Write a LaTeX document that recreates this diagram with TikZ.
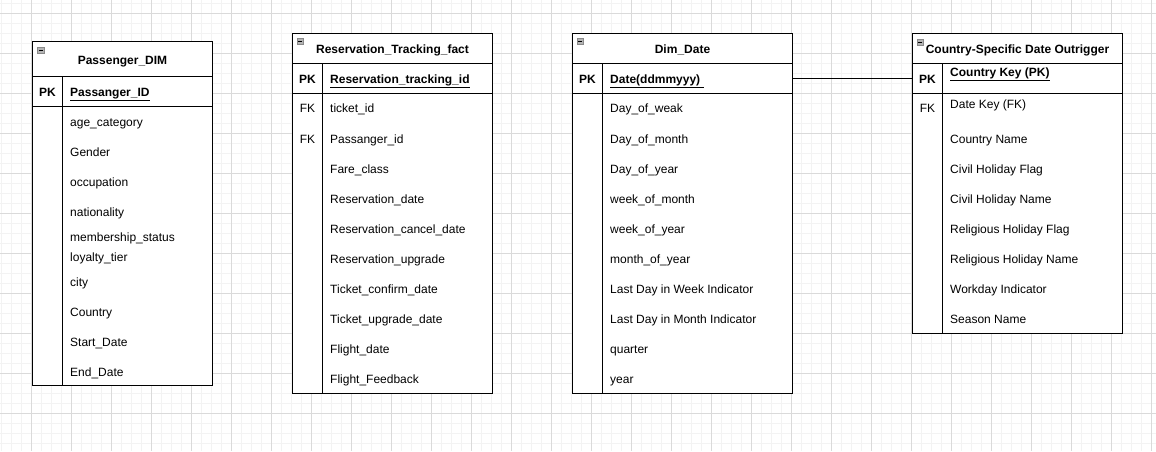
\documentclass[tikz,border=0pt]{standalone}
\usepackage{fontspec}
\setmainfont{Liberation Sans}
\definecolor{gminor}{HTML}{F3F3F3}
\definecolor{gmajor}{HTML}{DADADA}
\definecolor{iconfill}{HTML}{B4B4B4}
\definecolor{iconline}{HTML}{8A8A8A}
\begin{document}
\begin{tikzpicture}[x=1pt,y=-1pt,
  tbl/.style={draw=black, line width=1pt, fill=white, inner sep=0pt, outer sep=0pt, anchor=north west},
  sepline/.style={draw=black, line width=1pt},
  conn/.style={draw=black, line width=1pt},
  ttl/.style={font=\fontsize{12}{14}\selectfont\bfseries, inner sep=0pt, text height=10pt, text depth=0pt},
  fld/.style={font=\fontsize{12}{14}\selectfont, anchor=west, inner sep=0pt, text height=10pt, text depth=0pt},
  keyb/.style={font=\fontsize{12}{14}\selectfont\bfseries, inner sep=0pt, text height=10pt, text depth=0pt},
  keyn/.style={font=\fontsize{12}{14}\selectfont, inner sep=0pt, text height=10pt, text depth=0pt},
  pkf/.style={font=\fontsize{12}{14}\selectfont\bfseries, anchor=west, inner sep=0pt, text height=10pt, text depth=0pt},
  icon/.style={draw=iconline, fill=iconfill, line width=0.6pt},
  gridminor/.style={draw=gminor, line width=1pt},
  gridmajor/.style={draw=gmajor, line width=1pt}]
\useasboundingbox (0,0) rectangle (1156,451);
% background grid
\fill[white] (0,0) rectangle (1156,451);
\foreach \x in {1.5,11.5,...,1155} \draw[gridminor] (\x,0) -- (\x,451);
\foreach \y in {3.5,13.5,...,450} \draw[gridminor] (0,\y) -- (1156,\y);
\foreach \x in {31.5,71.5,...,1155} \draw[gridmajor] (\x,0) -- (\x,451);
\foreach \y in {13.5,53.5,...,450} \draw[gridmajor] (0,\y) -- (1156,\y);

% ---------- Passenger_DIM ----------
\node[tbl, minimum width=180pt, minimum height=344.5pt] (pas) at (32.5,41) {};
\draw[sepline] (32.5,76) -- (212.5,76);
\draw[sepline] (32.5,106) -- (212.5,106);
\draw[sepline] (62.5,76) -- (62.5,385.5);
\draw[icon] (37.5,47.5) rectangle (44,53.5);
\draw[black, line width=1pt] (38.8,50.5) -- (42.7,50.5);
\node[ttl] (pastitle) at (122.5,59) {Passenger\_DIM};
\node[keyb] (paspk) at (47.5,91.5) {PK};
\node[pkf] (pasid) at (70,91.5) {\underline{Passanger\_ID}};
\foreach \t/\y [count=\i] in {age\_category/121.5, Gender/151.5, occupation/181.5, nationality/211.5, membership\_status/236.5, loyalty\_tier/256.5, city/281.5, Country/311.5, Start\_Date/341.5, End\_Date/371.5}
  \node[fld] (pf\i) at (70,\y) {\t};

% ---------- Reservation_Tracking_fact ----------
\node[tbl, minimum width=200pt, minimum height=360pt] (res) at (292.5,33) {};
\draw[sepline] (292.5,63) -- (492.5,63);
\draw[sepline] (292.5,93) -- (492.5,93);
\draw[sepline] (322.5,63) -- (322.5,393);
\draw[icon] (297,38.5) rectangle (303.5,44.5);
\draw[black, line width=1pt] (298.3,41.5) -- (302.2,41.5);
\node[ttl] (restitle) at (392.5,48) {Reservation\_Tracking\_fact};
\node[keyb] (respk) at (307.5,78.3) {PK};
\node[pkf] (resid) at (330,78.3) {\underline{Reservation\_tracking\_id}};
\node[keyn] (resfk1) at (307.5,107.5) {FK};
\node[keyn] (resfk2) at (307.5,138.5) {FK};
\foreach \t/\y [count=\i] in {ticket\_id/107.5, Passanger\_id/138.5, Fare\_class/168, Reservation\_date/198.3, Reservation\_cancel\_date/228.3, Reservation\_upgrade/258.7, Ticket\_confirm\_date/288.7, Ticket\_upgrade\_date/318.7, Flight\_date/348.3, Flight\_Feedback/378.3}
  \node[fld] (rf\i) at (330,\y) {\t};

% ---------- Dim_Date ----------
\node[tbl, minimum width=220pt, minimum height=360pt] (dim) at (572.5,33) {};
\draw[sepline] (572.5,63) -- (792.5,63);
\draw[sepline] (572.5,93) -- (792.5,93);
\draw[sepline] (602.5,63) -- (602.5,393);
\draw[icon] (577,38.5) rectangle (583.5,44.5);
\draw[black, line width=1pt] (578.3,41.5) -- (582.2,41.5);
\node[ttl] (dimtitle) at (682.5,48) {Dim\_Date};
\node[keyb] (dimpk) at (587.5,78.3) {PK};
\node[pkf] (dimid) at (610,78.3) {\underline{Date(ddmmyyy)\ }};
\coordinate (dimrow) at (682.5,78.3);
\foreach \t/\y [count=\i] in {Day\_of\_weak/107.5, Day\_of\_month/138.3, Day\_of\_year/168, week\_of\_month/198.3, week\_of\_year/228.7, month\_of\_year/258.7, Last Day in Week Indicator/288.3, Last Day in Month Indicator/318.3, quarter/348.3, year/378.3}
  \node[fld] (df\i) at (610,\y) {\t};

% ---------- Country-Specific Date Outrigger ----------
\node[tbl, minimum width=210pt, minimum height=300pt] (out) at (912.5,33) {};
\draw[sepline] (912.5,63) -- (1122.5,63);
\draw[sepline] (912.5,93) -- (1122.5,93);
\draw[sepline] (942.5,63) -- (942.5,333);
\draw[icon] (917,39) rectangle (923.5,45);
\draw[black, line width=1pt] (918.3,42) -- (922.2,42);
\node[ttl] (outtitle) at (1017.5,48) {Country-Specific Date Outrigger};
\node[keyb] (outpk) at (927.5,78.3) {PK};
\node[pkf] (outid) at (950,71.7) {\underline{Country Key (PK)}};
\node[keyn] (outfk) at (927.5,107.5) {FK};
\node[fld] (outdk) at (950,103.3) {Date Key (FK)};
\foreach \t/\y [count=\i] in {Country Name/138.3, Civil Holiday Flag/168, Civil Holiday Name/198.3, Religious Holiday Flag/228.3, Religious Holiday Name/258.3, Workday Indicator/288.3, Season Name/318.3}
  \node[fld] (of\i) at (950,\y) {\t};

% ---------- connector ----------
\draw[conn] (dim.east |- dimrow) -- (out.west |- dimrow);
\end{tikzpicture}
\end{document}
